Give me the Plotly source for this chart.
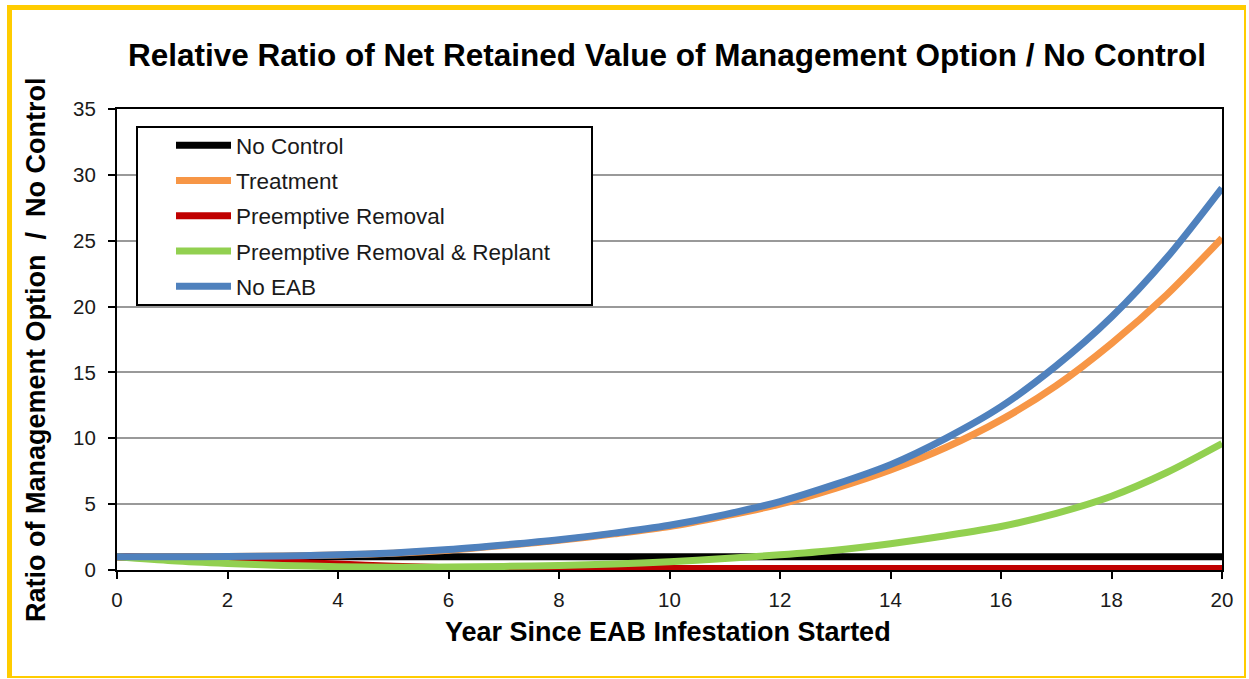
import plotly.graph_objects as go

years = list(range(0, 21))
no_control = [1.0] * 21
treatment = [1.0, 1.0, 1.02, 1.06, 1.14, 1.28, 1.5, 1.85, 2.25, 2.75, 3.3, 4.1, 5.0, 6.2, 7.6, 9.3, 11.4, 14.0, 17.2, 20.9, 25.2]
preemptive_removal = [1.0, 0.9, 0.78, 0.62, 0.45, 0.28, 0.17, 0.13, 0.12, 0.12, 0.12, 0.12, 0.12, 0.12, 0.12, 0.12, 0.12, 0.12, 0.12, 0.12, 0.12]
removal_replant = [1.0, 0.7, 0.5, 0.35, 0.25, 0.2, 0.22, 0.27, 0.35, 0.45, 0.62, 0.88, 1.15, 1.5, 2.0, 2.6, 3.3, 4.3, 5.6, 7.4, 9.6]
no_eab = [1.0, 1.0, 1.02, 1.06, 1.15, 1.3, 1.55, 1.9, 2.3, 2.8, 3.4, 4.2, 5.2, 6.5, 8.0, 10.0, 12.4, 15.5, 19.2, 23.7, 29.0]

series_names = ["No Control", "Treatment", "Preemptive Removal", "Preemptive Removal & Replant", "No EAB"]
series_values = [no_control, treatment, preemptive_removal, removal_replant, no_eab]
series_colors = ["#000000", "#F79646", "#C00000", "#92D050", "#4F81BD"]

x_ticks = list(range(0, 21, 2))
y_ticks = list(range(0, 36, 5))

FONT = "Arial, Liberation Sans, sans-serif"

fig = go.Figure()
for name, vals, col in zip(series_names, series_values, series_colors):
    fig.add_trace(go.Scatter(
        x=years, y=vals, name=name, mode="lines",
        line=dict(color=col, width=7, shape="spline", smoothing=0.8),
        legendgroup=name,
    ))

W, H = 1249, 679
L, R, T, B = 117, 1222, 109, 570
pw, ph = R - L, B - T

def px(x):
    return (x - L) / pw

def py(y):
    return (B - y) / ph

shapes = [
    # legend box
    dict(type="rect", xref="paper", yref="paper",
         x0=px(137), x1=px(592), y0=py(305), y1=py(127),
         line=dict(color="black", width=2), fillcolor="white", layer="above"),
    # gold frame
    dict(type="line", xref="paper", yref="paper", x0=px(9.5), x1=px(9.5), y0=py(677), y1=py(7.5),
         line=dict(color="#FFCC00", width=5)),
    dict(type="line", xref="paper", yref="paper", x0=px(7), x1=px(1246), y0=py(7.5), y1=py(7.5),
         line=dict(color="#FFCC00", width=5)),
    dict(type="line", xref="paper", yref="paper", x0=px(1245), x1=px(1245), y0=py(677), y1=py(5),
         line=dict(color="#FFCC00", width=2)),
    dict(type="line", xref="paper", yref="paper", x0=px(7), x1=px(1246), y0=py(677), y1=py(677),
         line=dict(color="#FFCC00", width=2)),
]

annotations = [
    dict(text="<b>Year Since EAB Infestation Started</b>", xref="paper", yref="paper",
         x=px(668), y=py(632), showarrow=False, xanchor="center", yanchor="middle",
         font=dict(family=FONT, size=27, color="black")),
    dict(text="<b>Ratio of Management Option  /  No Control</b>", xref="paper", yref="paper",
         x=px(36), y=py(350), showarrow=False, xanchor="center", yanchor="middle", textangle=-90,
         font=dict(family=FONT, size=27, color="black")),
]

fig.update_layout(
    width=W, height=H,
    margin=dict(l=L, r=W - R, t=T, b=H - B, pad=0),
    paper_bgcolor="white", plot_bgcolor="white",
    title=dict(text="<b>Relative Ratio of Net Retained Value of Management Option / No Control</b>",
               x=667 / W, y=1 - 55 / H, xanchor="center", yanchor="middle",
               font=dict(family=FONT, size=31.5, color="black")),
    font=dict(family=FONT, size=20, color="#1a1a1a"),
    showlegend=True,
    legend=dict(x=px(171), y=py(124), xanchor="left", yanchor="top",
                bgcolor="rgba(0,0,0,0)", borderwidth=0,
                font=dict(family=FONT, size=22.5, color="#1a1a1a"),
                traceorder="grouped", tracegroupgap=3, itemwidth=55),
    shapes=shapes,
    annotations=annotations,
    xaxis=dict(range=[0, 20], tickvals=x_ticks, ticktext=[str(v) for v in x_ticks],
               showgrid=False, zeroline=False, showline=True, linecolor="black", linewidth=2,
               mirror=True, ticks="outside", ticklen=7, tickwidth=2, tickcolor="black",
               ticklabelstandoff=3,
               tickfont=dict(family=FONT, size=20.5, color="#1a1a1a")),
    yaxis=dict(range=[0, 35], tickvals=y_ticks, ticktext=[str(v) for v in y_ticks],
               showgrid=True, gridcolor="#999999", gridwidth=1.5, zeroline=False,
               showline=True, linecolor="black", linewidth=2, mirror=True,
               ticks="outside", ticklen=7, tickwidth=2, tickcolor="black",
               ticklabelstandoff=8,
               tickfont=dict(family=FONT, size=20.5, color="#1a1a1a")),
)

fig.write_html("out.html", config={"displayModeBar": False}, post_script=(
    "document.documentElement.style.margin='0';document.documentElement.style.overflow='hidden';"
    "document.body.style.margin='0';document.body.style.padding='0';document.body.style.overflow='hidden';"
))
